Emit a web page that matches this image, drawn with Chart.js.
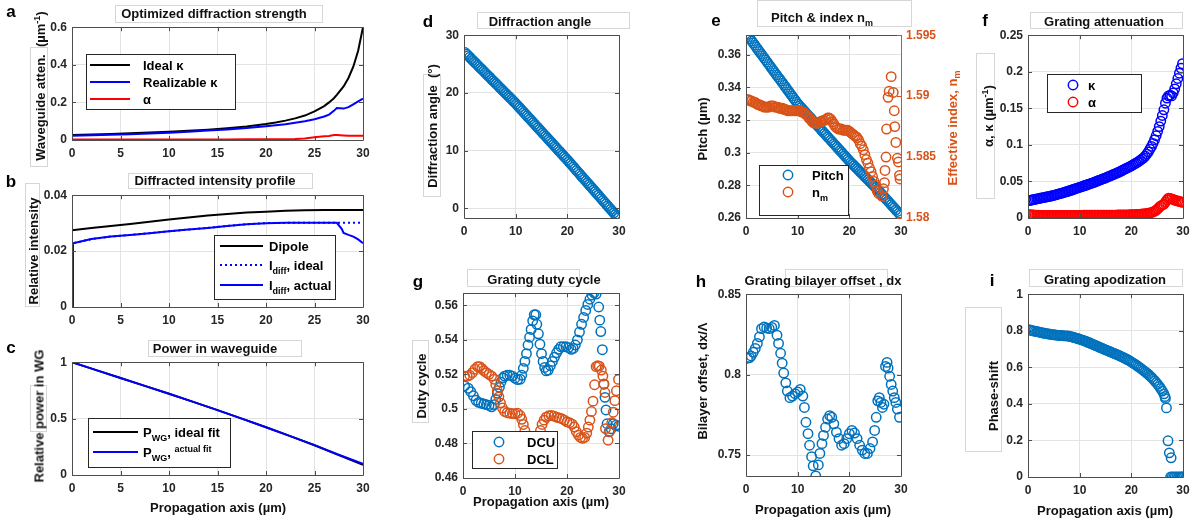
<!DOCTYPE html>
<html lang="en">
<head>
<meta charset="UTF-8">
<title>Grating design panels</title>
<style>
    body { margin: 0; background: #fff; }
    #fig { position: relative; width: 1199px; height: 526px; overflow: hidden; background: #fff; }
    .bx { position: absolute; border: 1px solid #d6d6d6; box-sizing: border-box; }
</style>
</head>
<body>
<div id="fig"></div>
<script src="https://cdn.jsdelivr.net/npm/chart.js@4"></script>
<script>
// ---- data ----
// a: optimized diffraction strength
const aX = [0, 2, 4, 6, 8, 10, 12, 14, 16, 18, 20, 21, 22, 23, 24, 25, 26, 26.5, 27, 27.3, 28, 28.5, 29, 29.5, 30];
const aIdeal = [0.027, 0.029, 0.032, 0.036, 0.04, 0.044, 0.049, 0.055, 0.063, 0.072, 0.085, 0.093, 0.103, 0.115, 0.13, 0.152, 0.18, 0.2, 0.222, 0.24, 0.285, 0.33, 0.39, 0.475, 0.6];
const aReal = [0.022, 0.025, 0.028, 0.031, 0.035, 0.039, 0.044, 0.05, 0.056, 0.064, 0.073, 0.078, 0.084, 0.092, 0.1, 0.11, 0.125, 0.135, 0.155, 0.17, 0.167, 0.175, 0.19, 0.205, 0.22];
const aAlpha = [0.003, 0.003, 0.003, 0.003, 0.003, 0.003, 0.003, 0.003, 0.003, 0.0035, 0.0035, 0.004, 0.004, 0.005, 0.008, 0.014, 0.02, 0.021, 0.027, 0.026, 0.024, 0.023, 0.023, 0.022, 0.022];

// b: diffracted intensity profile
const bX = [0, 0.1, 2, 4, 6, 8, 10, 12, 14, 16, 18, 20, 22, 24, 26, 27.3, 27.8, 28, 28.5, 29, 29.5, 30];
const bDipole = [0.0275, 0.0275, 0.0283, 0.029, 0.0297, 0.0305, 0.0313, 0.032, 0.0327, 0.0333, 0.0338, 0.0341, 0.0344, 0.0346, 0.0347, 0.0347, 0.0347, 0.0347, 0.0347, 0.0347, 0.0347, 0.0347];
const bActual = [0, 0.0228, 0.0243, 0.0252, 0.0258, 0.0264, 0.0271, 0.0277, 0.0283, 0.029, 0.0296, 0.03, 0.0301, 0.0301, 0.0301, 0.0301, 0.028, 0.0265, 0.0258, 0.0252, 0.0242, 0.0228];
const bIdeal = [0, 0.0228, 0.0243, 0.0252, 0.0258, 0.0264, 0.0271, 0.0277, 0.0283, 0.029, 0.0296, 0.03, 0.0301, 0.0301, 0.0301, 0.0301, 0.0301, 0.0301, 0.0301, 0.0301, 0.0301, 0.0301];

// c: power in waveguide
const cX = [0, 2.5, 5, 7.5, 10, 12.5, 15, 17.5, 20, 22.5, 25, 27.5, 30];
const cActual = [1, 0.93, 0.86, 0.79, 0.72, 0.648, 0.575, 0.5, 0.423, 0.345, 0.265, 0.18, 0.1];
const cIdeal = [1, 0.93, 0.86, 0.79, 0.72, 0.648, 0.575, 0.5, 0.423, 0.345, 0.264, 0.176, 0.09];

// grating period positions shared by d, e, f, i (um)
const gridX = [0.2, 0.5, 0.8, 1.1, 1.4, 1.7, 2.0, 2.3, 2.6, 2.9, 3.2, 3.5, 3.8, 4.1, 4.4, 4.7, 5.0, 5.3, 5.6, 5.9,
    6.2, 6.5, 6.8, 7.1, 7.4, 7.7, 8.0, 8.3, 8.6, 8.9, 9.2, 9.5, 9.8, 10.1, 10.4, 10.7, 11.0, 11.3, 11.6, 11.9,
    12.2, 12.5, 12.8, 13.1, 13.4, 13.7, 14.0, 14.3, 14.6, 14.9, 15.2, 15.5, 15.8, 16.1, 16.4, 16.7, 17.0, 17.3, 17.6, 17.9,
    18.2, 18.5, 18.8, 19.1, 19.4, 19.7, 20.0, 20.3, 20.6, 20.9, 21.2, 21.5, 21.8, 22.1, 22.4, 22.7, 23.0, 23.3, 23.6, 23.9,
    24.2, 24.5, 24.8, 25.1, 25.4, 25.7, 26.0, 26.3, 26.6, 26.9, 27.2, 27.5, 27.8, 28.1, 28.4, 28.7, 29.0, 29.3, 29.6, 29.9];

// d: diffraction angle (deg)
const dAngle = [26.99, 26.72, 26.45, 26.18, 25.91, 25.64, 25.37, 25.1, 24.83, 24.56, 24.29, 24.02, 23.75, 23.48, 23.21, 22.94, 22.67, 22.4, 22.13, 21.86,
    21.59, 21.32, 21.05, 20.78, 20.51, 20.24, 19.97, 19.7, 19.43, 19.16, 18.89, 18.62, 18.35, 18.07, 17.78, 17.48, 17.19, 16.9, 16.6, 16.31,
    16.01, 15.72, 15.43, 15.13, 14.84, 14.54, 14.25, 13.96, 13.66, 13.37, 13.07, 12.78, 12.49, 12.19, 11.9, 11.6, 11.31, 11.02, 10.72, 10.43,
    10.13, 9.84, 9.55, 9.25, 8.96, 8.66, 8.37, 8.06, 7.76, 7.45, 7.15, 6.84, 6.53, 6.23, 5.92, 5.62, 5.31, 5.0, 4.7, 4.39,
    4.09, 3.78, 3.47, 3.17, 2.86, 2.56, 2.25, 1.94, 1.64, 1.33, 1.03, 0.72, 0.41, 0.11, -0.2, -0.5, -0.81, -1.12, -1.42, -1.65];

// e: pitch (um) and effective index n_m
const ePitch = [0.3724, 0.3711, 0.3698, 0.3685, 0.3672, 0.3659, 0.3646, 0.3633, 0.362, 0.3607, 0.3594, 0.3581, 0.3568, 0.3555, 0.3542, 0.3529, 0.3516, 0.3503, 0.349, 0.3477,
    0.3464, 0.3452, 0.3439, 0.3426, 0.3413, 0.34, 0.3387, 0.3374, 0.3361, 0.3348, 0.3335, 0.3322, 0.3309, 0.3297, 0.3286, 0.3276, 0.3265, 0.3255, 0.3244, 0.3234,
    0.3223, 0.3213, 0.3202, 0.3192, 0.3181, 0.3171, 0.316, 0.315, 0.3139, 0.3129, 0.3118, 0.3108, 0.3097, 0.3087, 0.3076, 0.3066, 0.3055, 0.3045, 0.3034, 0.3024,
    0.3013, 0.3003, 0.2992, 0.2982, 0.2971, 0.2961, 0.295, 0.294, 0.2931, 0.2921, 0.2912, 0.2902, 0.2892, 0.2883, 0.2873, 0.2864, 0.2854, 0.2844, 0.2835, 0.2825,
    0.2816, 0.2806, 0.2796, 0.2787, 0.2776, 0.2766, 0.2755, 0.2745, 0.2734, 0.2724, 0.2713, 0.2703, 0.2692, 0.2682, 0.2671, 0.2661, 0.265, 0.264, 0.2629, 0.2619];
const eIndex = [1.5897, 1.5897, 1.5896, 1.5896, 1.5895, 1.5895, 1.5894, 1.5893, 1.5893, 1.5892, 1.5892, 1.5891, 1.5891, 1.5891, 1.5891, 1.5892, 1.5892, 1.5892, 1.5891, 1.5891,
    1.5891, 1.589, 1.589, 1.589, 1.5889, 1.5889, 1.5888, 1.5888, 1.5888, 1.5888, 1.5888, 1.5888, 1.5888, 1.5888, 1.5888, 1.5887, 1.5887, 1.5886, 1.5885, 1.5884,
    1.5882, 1.5881, 1.5879, 1.5878, 1.5878, 1.5878, 1.5878, 1.5879, 1.5879, 1.588, 1.588, 1.5881, 1.5882, 1.5882, 1.5881, 1.5879, 1.5877, 1.5875, 1.5874, 1.5873,
    1.5873, 1.5873, 1.5872, 1.5872, 1.5872, 1.5872, 1.5871, 1.587, 1.5869, 1.5868, 1.5867, 1.5866, 1.5864, 1.5861, 1.5859, 1.5856, 1.5852, 1.5848, 1.5845, 1.5841,
    1.5838, 1.5834, 1.583, 1.5827, 1.5822, 1.582];
const eTailX = [26.3, 26.6, 26.8, 26.9, 27.1, 27.2, 27.5, 27.7, 28.1, 28.5, 28.7, 28.8, 29.0, 29.3, 29.5, 29.7, 29.8];
const eTailY = [1.5818, 1.5824, 1.5829, 1.5839, 1.585, 1.5873, 1.5899, 1.5904, 1.5916, 1.5903, 1.5888, 1.5875, 1.5862, 1.5849, 1.5846, 1.5835, 1.5832];

// f: grating attenuation (1/um)
const fKappa = [0.0239, 0.0243, 0.0247, 0.0252, 0.0256, 0.0261, 0.0265, 0.027, 0.0274, 0.0278, 0.0282, 0.0287, 0.0291, 0.0296, 0.03, 0.0305, 0.031, 0.0316, 0.0322, 0.0328,
    0.0334, 0.034, 0.0346, 0.0352, 0.0358, 0.0365, 0.0372, 0.0379, 0.0386, 0.0394, 0.0401, 0.0408, 0.0415, 0.0422, 0.0429, 0.0437, 0.0444, 0.0451, 0.0458, 0.0466,
    0.0473, 0.048, 0.0488, 0.0496, 0.0505, 0.0513, 0.0521, 0.053, 0.0538, 0.0546, 0.0555, 0.0564, 0.0573, 0.0582, 0.0591, 0.06, 0.0609, 0.0618, 0.0628, 0.0639,
    0.0649, 0.066, 0.067, 0.0681, 0.0691, 0.0702, 0.0713, 0.0726, 0.0739, 0.0751, 0.0764, 0.0778, 0.0793, 0.0808, 0.0825, 0.0848, 0.0875, 0.0905, 0.0941, 0.0979,
    0.1021, 0.1071, 0.1125, 0.1185, 0.125, 0.1325, 0.1402, 0.148, 0.157, 0.164, 0.167, 0.168, 0.167, 0.171, 0.1765, 0.1835, 0.1908, 0.198, 0.205, 0.211];
const fAlpha = [0.0045, 0.0044, 0.0042, 0.0041, 0.004, 0.0038, 0.0037, 0.0036, 0.0035, 0.0035, 0.0035, 0.0035, 0.0035, 0.0035, 0.0035, 0.0035, 0.0035, 0.0035, 0.0035, 0.0035,
    0.0035, 0.0035, 0.0035, 0.0036, 0.0036, 0.0036, 0.0036, 0.0036, 0.0036, 0.0036, 0.0036, 0.0036, 0.0036, 0.0036, 0.0036, 0.0037, 0.0037, 0.0037, 0.0038, 0.0038,
    0.0038, 0.0038, 0.0038, 0.0038, 0.0039, 0.0039, 0.0039, 0.0039, 0.0039, 0.0039, 0.0039, 0.004, 0.004, 0.004, 0.004, 0.004, 0.004, 0.0041, 0.0041, 0.0041,
    0.0042, 0.0042, 0.0042, 0.0043, 0.0043, 0.0044, 0.0044, 0.0045, 0.0046, 0.0047, 0.0049, 0.005, 0.0052, 0.0054, 0.0056, 0.0059, 0.0061, 0.0064, 0.0069, 0.0075,
    0.0082, 0.0093, 0.0105, 0.0126, 0.0146, 0.0166, 0.0178, 0.0188, 0.0218, 0.0248, 0.0271, 0.0269, 0.0262, 0.0253, 0.0245, 0.0238, 0.0232, 0.0226, 0.022, 0.0214];

// g: duty cycles
const gDcuX = [0.3, 1, 1.5, 2, 2.5, 3, 3.5, 4, 4.5, 5, 5.5, 6, 6.3, 6.6, 7, 7.3, 7.7, 8, 8.5, 9, 9.5, 10, 10.5, 11, 11.3, 11.6, 11.9, 12.2, 12.5, 12.8,
    13.1, 13.4, 13.7, 14, 14.2, 14.5, 14.8, 15.1, 15.4, 15.7, 16, 16.4, 16.8, 17.2, 17.6, 18, 18.4, 18.8, 19.3, 19.8, 20.3, 20.8, 21.2, 21.6, 22, 22.4, 22.8, 23.2, 23.6, 24,
    24.4, 24.8, 25.2, 25.6, 26.1, 26.3, 26.5, 26.8, 27.1, 27.3, 27.5, 27.7, 28.1, 28.5, 28.9, 29.4, 29.9];
const gDcu = [0.5133, 0.512, 0.51, 0.5076, 0.505, 0.5038, 0.5033, 0.5029, 0.5025, 0.502, 0.5012, 0.5025, 0.5055, 0.509, 0.5125, 0.5155, 0.518, 0.519, 0.5195, 0.5195,
    0.519, 0.5178, 0.517, 0.5172, 0.5195, 0.5235, 0.5275, 0.532, 0.537, 0.5415, 0.546, 0.551, 0.5545, 0.5545, 0.549, 0.5435, 0.5375, 0.532, 0.5275, 0.524,
    0.522, 0.5225, 0.525, 0.5275, 0.53, 0.5325, 0.5345, 0.536, 0.536, 0.536, 0.5355, 0.5345, 0.535, 0.537, 0.54, 0.5445, 0.549, 0.553, 0.557, 0.5605,
    0.5635, 0.566, 0.5672, 0.5665, 0.559, 0.5514, 0.5448, 0.5343, 0.5143, 0.5067, 0.4994, 0.4914, 0.4867, 0.4885, 0.4914, 0.4905, 0.49];
const gDclX = [0.3, 0.8, 1.3, 1.8, 2.3, 2.8, 3.2, 3.6, 4, 4.5, 5, 5.5, 6, 6.3, 6.6, 6.9, 7.2, 7.6, 8, 8.5, 9, 9.5, 10, 10.5, 11, 11.3, 11.6, 11.9, 12.2, 12.5,
    12.8, 13.1, 13.4, 13.7, 14, 14.3, 14.6, 14.9, 15.2, 15.6, 16, 16.5, 17, 17.5, 18, 18.5, 19, 19.5, 20, 20.5, 21, 21.4, 21.8, 22.2, 22.6, 23, 23.4, 23.8, 24.1, 24.4,
    24.7, 25, 25.3, 25.6, 25.9, 26.2, 26.6, 26.9, 27.1, 27.3, 27.4, 27.9, 28.2, 28.6, 28.9, 29.2, 29.5, 29.9];
const gDcl = [0.519, 0.519, 0.5195, 0.521, 0.523, 0.5245, 0.5245, 0.5235, 0.5222, 0.521, 0.52, 0.519, 0.5172, 0.514, 0.5105, 0.507, 0.5035, 0.5005, 0.4985, 0.4978,
    0.4975, 0.4973, 0.4972, 0.4975, 0.4962, 0.494, 0.491, 0.4875, 0.4835, 0.479, 0.4745, 0.471, 0.4688, 0.4695, 0.4735, 0.478, 0.4835, 0.4875, 0.491, 0.4935,
    0.4952, 0.496, 0.4962, 0.4958, 0.4952, 0.4948, 0.4943, 0.4935, 0.4925, 0.492, 0.4912, 0.4895, 0.4868, 0.4848, 0.4835, 0.483, 0.4835, 0.486, 0.4895, 0.4935,
    0.4985, 0.5045, 0.514, 0.5245, 0.525, 0.5248, 0.5225, 0.519, 0.5145, 0.5095, 0.4886, 0.4819, 0.487, 0.492, 0.4981, 0.5048, 0.5105, 0.5171];

// h: bilayer offset dx/pitch
const hX = [0.3, 0.7, 1, 1.4, 1.8, 2.2, 2.6, 3, 3.5, 4, 4.5, 5, 5.5, 6, 6.3, 6.7, 7, 7.3, 7.7, 8, 8.5, 9, 9.5, 10, 10.5, 11, 11.3, 11.6, 12, 12.3,
    12.7, 13, 13.5, 14, 14.3, 14.7, 15, 15.4, 15.8, 16.2, 16.6, 17, 17.5, 18, 18.5, 19, 19.5, 20, 20.5, 21, 21.5, 22, 22.5, 23, 23.5, 24, 24.5, 24.9, 25.2, 25.5,
    25.8, 26.1, 26.4, 26.7, 27, 27.3, 27.5, 27.8, 28.1, 28.4, 28.7, 29, 29.3, 29.7];
const hOffset = [0.8102, 0.8106, 0.8116, 0.8139, 0.8163, 0.8194, 0.8235, 0.8286, 0.8296, 0.829, 0.8286, 0.8294, 0.8306, 0.8245, 0.8194, 0.8133, 0.8071, 0.801, 0.7949, 0.7898,
    0.7857, 0.7867, 0.7882, 0.7892, 0.7908, 0.7867, 0.7796, 0.7704, 0.7633, 0.7561, 0.749, 0.7433, 0.7371, 0.7439, 0.751, 0.7571, 0.7622, 0.7673, 0.7724, 0.7745,
    0.7735, 0.7694, 0.7643, 0.7602, 0.7561, 0.7571, 0.7602, 0.7633, 0.7653, 0.7637, 0.7602, 0.7561, 0.7531, 0.751, 0.751, 0.7541, 0.7582, 0.7653, 0.7735, 0.7837,
    0.7857, 0.7827, 0.7796, 0.7816, 0.8051, 0.8076, 0.8041, 0.799, 0.7939, 0.7898, 0.7857, 0.7827, 0.7786, 0.7735];

// i: apodization phase shift
const iPhase = [0.806, 0.803, 0.801, 0.799, 0.797, 0.796, 0.794, 0.792, 0.79, 0.788, 0.786, 0.785, 0.783, 0.782, 0.78, 0.779, 0.778, 0.777, 0.776, 0.775,
    0.774, 0.774, 0.773, 0.772, 0.772, 0.771, 0.77, 0.768, 0.766, 0.763, 0.761, 0.758, 0.756, 0.753, 0.75, 0.747, 0.744, 0.741, 0.737, 0.734,
    0.73, 0.727, 0.723, 0.719, 0.716, 0.712, 0.708, 0.705, 0.701, 0.697, 0.694, 0.69, 0.687, 0.683, 0.679, 0.676, 0.672, 0.669, 0.665, 0.661,
    0.657, 0.653, 0.649, 0.644, 0.64, 0.635, 0.629, 0.624, 0.619, 0.613, 0.607, 0.601, 0.595, 0.588, 0.582, 0.575, 0.568, 0.561, 0.553, 0.545,
    0.536, 0.527, 0.517, 0.507, 0.496, 0.484, 0.47, 0.455];
const iTailX = [26.5, 26.6, 26.8, 27.1, 27.35, 27.7, 27.6, 27.9, 28.2, 28.5, 28.8, 29.1, 29.4, 29.7, 29.9];
const iTailY = [0.44, 0.43, 0.378, 0.198, 0.132, 0.105, 0, 0, 0, 0, 0, 0, 0, 0, 0];

// tick lists
const ticks30by5 = [0, 5, 10, 15, 20, 25, 30];
const ticks30by10 = [0, 10, 20, 30];

// ---- drawing ----
const FONT = "'Liberation Sans', Arial, Helvetica, sans-serif";
const BLUE = '#0072BD', ORANGE = '#D95319';
const fig = document.getElementById('fig');

function pts(xs, ys) { return ys.map((y, i) => ({ x: xs[i], y: y })); }
function fmt(v) { return String(parseFloat(Number(v).toFixed(4))); }

function lineSet(xs, ys, color, dash) {
    return { data: pts(xs, ys), showLine: true, borderColor: color, borderWidth: 2, borderDash: dash || [],
        pointRadius: 0, fill: false, tension: 0 };
}
function ringSet(xs, ys, color, axisId) {
    return { data: pts(xs, ys), showLine: false, pointRadius: 4.7, pointBorderWidth: 1.5,
        pointBorderColor: color, pointBackgroundColor: 'rgba(0,0,0,0)', yAxisID: axisId || 'y' };
}

function axis(pos, spec, size, color) {
    return {
        type: 'linear', position: pos, min: spec[0], max: spec[1],
        afterBuildTicks: s => { s.ticks = spec[2].map(v => ({ value: v })); },
        afterFit: s => { if (pos === 'bottom') s.height = size; else s.width = size; },
        grid: { display: pos !== 'right', color: '#e3e3e3', drawTicks: false },
        border: { display: false },
        ticks: { padding: pos === 'bottom' ? 6 : 5, color: color || '#262626', autoSkip: false, maxRotation: 0,
            font: { family: FONT, size: 12, weight: 'bold' }, callback: v => fmt(v) }
    };
}

// box + inward tick marks like the original axes
const framePlugin = {
    id: 'frame',
    afterDraw(chart) {
        const a = chart.chartArea, ctx = chart.ctx, s = chart.scales;
        const P = v => Math.round(v) + 0.5;
        ctx.save();
        ctx.lineWidth = 1;
        ctx.setLineDash([]);
        ctx.strokeStyle = '#4d4d4d';
        ctx.beginPath();
        s.x.ticks.forEach(t => {
            const p = P(s.x.getPixelForValue(t.value));
            ctx.moveTo(p, a.bottom); ctx.lineTo(p, a.bottom - 4);
            ctx.moveTo(p, a.top); ctx.lineTo(p, a.top + 4);
        });
        s.y.ticks.forEach(t => {
            const p = P(s.y.getPixelForValue(t.value));
            ctx.moveTo(a.left, p); ctx.lineTo(a.left + 4, p);
            if (!s.y2) { ctx.moveTo(a.right, p); ctx.lineTo(a.right - 4, p); }
        });
        ctx.moveTo(P(a.left), P(a.top)); ctx.lineTo(P(a.left), P(a.bottom));
        ctx.lineTo(P(a.right), P(a.bottom));
        ctx.moveTo(P(a.left), P(a.top)); ctx.lineTo(P(a.right), P(a.top));
        if (!s.y2) { ctx.moveTo(P(a.right), P(a.top)); ctx.lineTo(P(a.right), P(a.bottom)); }
        ctx.stroke();
        if (s.y2) {
            ctx.strokeStyle = ORANGE;
            ctx.beginPath();
            ctx.moveTo(P(a.right), P(a.top)); ctx.lineTo(P(a.right), P(a.bottom));
            s.y2.ticks.forEach(t => {
                const p = P(s.y2.getPixelForValue(t.value));
                ctx.moveTo(a.right, p); ctx.lineTo(a.right - 4, p);
            });
            ctx.stroke();
        }
        ctx.restore();
    }
};

// legend box drawn inside the axes
const boxLegend = {
    id: 'boxLegend',
    afterDraw(chart) {
        const L = chart.canvas._legend;
        if (!L) return;
        const ctx = chart.ctx, ox = chart.canvas._ox, oy = chart.canvas._oy;
        const [l, t, r, b] = L.box;
        ctx.save();
        ctx.fillStyle = '#fff';
        ctx.fillRect(l - ox, t - oy, r - l, b - t);
        ctx.strokeStyle = '#262626';
        ctx.lineWidth = 1;
        ctx.strokeRect(Math.round(l - ox) + 0.5, Math.round(t - oy) + 0.5, r - l, b - t);
        L.items.forEach(it => {
            const y = it.y - oy;
            ctx.beginPath();
            ctx.strokeStyle = it.color;
            if (it.ring) {
                ctx.lineWidth = 1.5;
                ctx.arc(L.mark - ox, y, 4.7, 0, Math.PI * 2);
                ctx.stroke();
            } else {
                ctx.lineWidth = 2;
                ctx.setLineDash(it.dash || []);
                ctx.moveTo(L.mark[0] - ox, y); ctx.lineTo(L.mark[1] - ox, y);
                ctx.stroke();
                ctx.setLineDash([]);
            }
            let x = L.text - ox;
            ctx.fillStyle = '#000';
            ctx.textBaseline = 'alphabetic';
            it.segs.forEach(sg => {
                const small = sg.sub || sg.sup;
                ctx.font = 'bold ' + (small ? 9 : 13) + 'px ' + FONT;
                ctx.fillText(sg.t, x, y + 4.5 + (sg.sub ? 4 : sg.sup ? -5 : 0));
                x += ctx.measureText(sg.t).width;
            });
        });
        ctx.restore();
    }
};

function panel(area, datasets, spec, legend) {
    const padL = 48, padR = spec.y2 ? 48 : 14, padT = 10, padB = 26;
    const W = area.r - area.l + padL + padR, H = area.b - area.t + padT + padB;
    const cv = document.createElement('canvas');
    cv.width = W; cv.height = H;
    cv.style.cssText = 'position:absolute;left:' + (area.l - padL) + 'px;top:' + (area.t - padT) + 'px;width:' + W + 'px;height:' + H + 'px';
    fig.appendChild(cv);
    cv._legend = legend;
    cv._ox = area.l - padL;
    cv._oy = area.t - padT;
    const scales = { x: axis('bottom', spec.x, padB), y: axis('left', spec.y, padL) };
    if (spec.y2) scales.y2 = axis('right', spec.y2, padR, ORANGE);
    new Chart(cv, {
        type: 'scatter',
        data: { datasets: datasets },
        options: {
            responsive: false, animation: false, events: [],
            layout: { autoPadding: false, padding: { left: 0, top: padT, right: spec.y2 ? 0 : padR, bottom: 0 } },
            scales: scales,
            plugins: { legend: { display: false }, tooltip: { enabled: false }, title: { display: false } }
        },
        plugins: [framePlugin, boxLegend]
    });
}

const T = t => ({ t: t });
const Sub = t => ({ t: t, sub: true });
const Sup = t => ({ t: t, sup: true });

// a
panel({ l: 72, t: 25, r: 363, b: 140 },
    [lineSet(aX, aAlpha, '#ff0000'), lineSet(aX, aReal, '#0000ff'), lineSet(aX, aIdeal, '#000000')],
    { x: [0, 30, ticks30by5], y: [0, 0.6, [0, 0.2, 0.4, 0.6]] },
    { box: [86, 54, 235, 109], mark: [90, 130], text: 143, items: [
        { y: 65, color: '#000', segs: [T('Ideal κ')] },
        { y: 82, color: '#0000ff', segs: [T('Realizable κ')] },
        { y: 99, color: '#ff0000', segs: [T('α')] }] });

// b
panel({ l: 72, t: 193, r: 363, b: 307 },
    [lineSet(bX, bActual, '#0000ff'), lineSet(bX, bIdeal, '#0000ff', [2, 3]), lineSet(bX, bDipole, '#000000')],
    { x: [0, 30, ticks30by5], y: [0, 0.04, [0, 0.02, 0.04]] },
    { box: [214, 235, 335, 299], mark: [220, 263], text: 269, items: [
        { y: 246, color: '#000', segs: [T('Dipole')] },
        { y: 265, color: '#0000ff', dash: [2, 3], segs: [T('I'), Sub('diff'), T(', ideal')] },
        { y: 285, color: '#0000ff', segs: [T('I'), Sub('diff'), T(', actual')] }] });

// c
panel({ l: 72, t: 360, r: 363, b: 475 },
    [lineSet(cX, cActual, '#0000ff'), lineSet(cX, cIdeal, '#000000')],
    { x: [0, 30, ticks30by5], y: [0, 1, [0, 0.5, 1]] },
    { box: [88, 418, 230, 467], mark: [93, 138], text: 143, items: [
        { y: 432, color: '#000', segs: [T('P'), Sub('WG'), T(', ideal fit')] },
        { y: 452, color: '#0000ff', segs: [T('P'), Sub('WG'), T(', '), Sup('actual fit')] }] });

// d
panel({ l: 464, t: 33, r: 619, b: 218 },
    [ringSet(gridX, dAngle, BLUE)],
    { x: [0, 30, ticks30by10], y: [-1.7, 30, [0, 10, 20, 30]] });

// e
panel({ l: 746, t: 33, r: 901, b: 218 },
    [ringSet(gridX, eIndex, ORANGE, 'y2'), ringSet(eTailX, eTailY, ORANGE, 'y2'), ringSet(gridX, ePitch, BLUE)],
    { x: [0, 30, ticks30by10], y: [0.26, 0.372, [0.26, 0.28, 0.3, 0.32, 0.34, 0.36]], y2: [1.58, 1.595, [1.58, 1.585, 1.59, 1.595]] },
    { box: [759, 165, 848, 215], mark: 788, text: 812, items: [
        { y: 175, ring: true, color: BLUE, segs: [T('Pitch')] },
        { y: 192, ring: true, color: ORANGE, segs: [T('n'), Sub('m')] }] });

// f
panel({ l: 1028, t: 33, r: 1183, b: 218 },
    [ringSet(gridX, fAlpha, '#ff0000'), ringSet(gridX, fKappa, '#0000ff')],
    { x: [0, 30, ticks30by10], y: [0, 0.25, [0, 0.05, 0.1, 0.15, 0.2, 0.25]] },
    { box: [1047, 74, 1141, 112], mark: 1073, text: 1088, items: [
        { y: 85, ring: true, color: '#0000ff', segs: [T('κ')] },
        { y: 102, ring: true, color: '#ff0000', segs: [T('α')] }] });

// g
panel({ l: 463, t: 291, r: 619, b: 478 },
    [ringSet(gDclX, gDcl, ORANGE), ringSet(gDcuX, gDcu, BLUE)],
    { x: [0, 30, ticks30by10], y: [0.46, 0.567, [0.46, 0.48, 0.5, 0.52, 0.54, 0.56]] },
    { box: [472, 431, 557, 468], mark: 499, text: 527, items: [
        { y: 442, ring: true, color: BLUE, segs: [T('DCU')] },
        { y: 459, ring: true, color: ORANGE, segs: [T('DCL')] }] });

// h
panel({ l: 746, t: 292, r: 901, b: 476 },
    [ringSet(hX, hOffset, BLUE)],
    { x: [0, 30, ticks30by10], y: [0.737, 0.85, [0.75, 0.8, 0.85]] });

// i
panel({ l: 1028, t: 292, r: 1183, b: 477 },
    [ringSet(gridX, iPhase, BLUE), ringSet(iTailX, iTailY, BLUE)],
    { x: [0, 30, ticks30by10], y: [0, 1, [0, 0.2, 0.4, 0.6, 0.8, 1]] });

// ---- texts and the faint label boxes ----
function box(l, t, w, h) {
    const d = document.createElement('div');
    d.className = 'bx';
    d.style.left = l + 'px'; d.style.top = t + 'px'; d.style.width = w + 'px'; d.style.height = h + 'px';
    fig.appendChild(d);
}
function txt(html, x, base, size, color) {
    const d = document.createElement('div');
    d.innerHTML = html;
    d.style.cssText = 'position:absolute;left:' + x + 'px;top:' + (base - 0.8465 * size) + 'px;font:bold ' + size + 'px/' + size + 'px ' + FONT +
        ';white-space:nowrap;color:' + (color || '#111') + ';transform:translateX(-50%)';
    fig.appendChild(d);
}
function ytxt(html, cx, cy, color) {
    const d = document.createElement('div');
    d.innerHTML = html;
    d.style.cssText = 'position:absolute;left:' + cx + 'px;top:' + cy + 'px;font:bold 13px/13px ' + FONT +
        ';white-space:nowrap;color:' + (color || '#111') + ';transform:translate(-50%,-50%) rotate(-90deg)';
    fig.appendChild(d);
}
const sup = s => '<sup style="font-size:9px">' + s + '</sup>';
const sub = s => '<sub style="font-size:9px">' + s + '</sub>';

box(115, 5, 208, 18); box(30, 47, 18, 120);
box(128, 173, 185, 16); box(25, 183, 15, 124);
box(148, 340, 154, 17); box(30, 385, 17, 47);
box(477, 12, 153, 17); box(423, 74, 18, 123);
box(757, 0, 155, 27);
box(1030, 12, 153, 17); box(976, 53, 19, 146);
box(467, 269, 113, 18); box(412, 340, 17, 83);
box(785, 269, 103, 18);
box(1029, 269, 154, 18); box(965, 307, 37, 145);

// panel letters
txt('a', 11, 17, 17, '#000'); txt('b', 11, 187, 17, '#000'); txt('c', 11, 353, 17, '#000');
txt('d', 428, 27, 17, '#000'); txt('e', 716, 26, 17, '#000'); txt('f', 985, 26, 17, '#000');
txt('g', 418, 287, 17, '#000'); txt('h', 701, 287, 17, '#000'); txt('i', 992, 286, 17, '#000');

// titles
txt('Optimized diffraction strength', 214, 18, 13);
txt('Diffracted intensity profile', 215, 185, 13);
txt('Power in waveguide', 215, 353, 13);
txt('Diffraction angle', 540, 26, 13);
txt('Pitch &amp; index n' + sub('m'), 822, 22, 13);
txt('Grating attenuation', 1104, 26, 13);
txt('Grating duty cycle', 544, 284, 13);
txt('Grating bilayer offset , dx', 823, 285, 13);
txt('Grating apodization', 1105, 284, 13);

// axis labels
txt('Propagation axis (µm)', 218, 512, 13);
txt('Propagation axis (µm)', 541, 506, 13);
txt('Propagation axis (µm)', 823, 514, 13);
txt('Propagation axis (µm)', 1105, 515, 13);
ytxt('Waveguide atten.&nbsp;&nbsp;(µm' + sup('-1') + ')', 39, 86);
ytxt('Relative intensity', 33, 251);
ytxt('Relative power in WG', 39, 416);
ytxt('Diffraction angle&nbsp;&nbsp;(°)', 432, 126);
ytxt('Pitch (µm)', 702, 129);
ytxt('Effective index, n' + sub('m'), 955, 128, ORANGE);
ytxt('α, κ (µm' + sup('-1') + ')', 987, 116);
ytxt('Duty cycle', 421, 386);
ytxt('Bilayer offset, dx/Λ', 702, 381);
ytxt('Phase-shift', 993, 396);
</script>
</body>
</html>
